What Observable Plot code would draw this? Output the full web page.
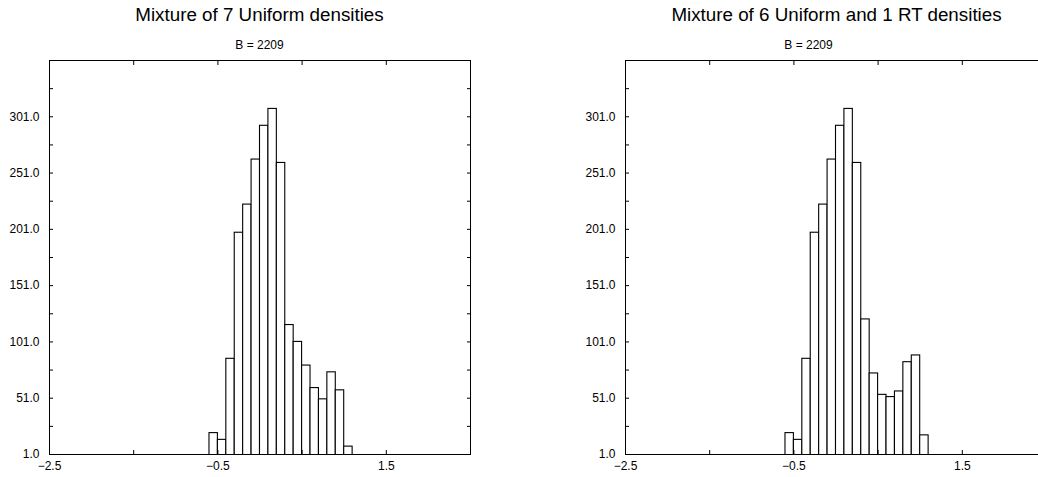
<!DOCTYPE html>
<html>
<head>
<meta charset="utf-8">
<script src="https://cdn.jsdelivr.net/npm/d3@7"></script>
<script src="https://cdn.jsdelivr.net/npm/@observablehq/plot@0.6"></script>
<style>
  html, body { margin: 0; padding: 0; background: #fff; overflow: hidden; }
  #wrap { position: relative; width: 1038px; height: 477px; overflow: hidden;
          font-family: "Liberation Sans", Arial, sans-serif; color: #000; }
  .panel { position: absolute; top: 0; width: 520px; height: 477px; }
  .panel svg { position: absolute; left: 0; top: 0; }
  .panel svg text { font-size: 12px !important; font-family: "Liberation Sans", Arial, sans-serif !important; }
  .title { position: absolute; font-size: 18.8px; line-height: 1; white-space: nowrap;
           transform: translateX(-50%); top: 5.5px; }
  .sub { position: absolute; font-size: 12px; line-height: 1; white-space: nowrap;
         transform: translateX(-50%); top: 39px; }
</style>
</head>
<body>
<div id="wrap"></div>
<script>
// ---- data ----
const titles = ["Mixture of 7 Uniform densities", "Mixture of 6 Uniform and 1 RT densities"];
const subtitle = "B = 2209";
const binEdges = [-0.6, -0.5, -0.4, -0.3, -0.2, -0.1, 0.0, 0.1, 0.2, 0.3, 0.4, 0.5, 0.6, 0.7, 0.8, 0.9, 1.0, 1.1];
const countsUniform = [20, 14, 86, 198, 223, 263, 293, 308, 260, 116, 101, 80, 60, 50, 74, 58, 8];
const countsRT      = [20, 14, 86, 198, 223, 263, 293, 308, 260, 121, 73, 54, 52, 57, 83, 89, 18];
const xDomain = [-2.5, 2.5];
const yDomain = [1, 351];
const xTicksAll = [-2.5, -1.5, -0.5, 0.5, 1.5, 2.5];
const xTickLabels = [-2.5, -0.5, 1.5];
const yTicksAll = [1, 26, 51, 76, 101, 126, 151, 176, 201, 226, 251, 276, 301, 326];
const yTickLabels = [1, 51, 101, 151, 201, 251, 301];

const fmt = d3.format(".1f");
const FONT = '"Liberation Sans", Arial, sans-serif';

function makePlot(counts) {
  const bins = counts.map((c, i) => ({x1: binEdges[i], x2: binEdges[i + 1], count: c}));
  return Plot.plot({
    width: 520, height: 477,
    marginLeft: 49, marginRight: 50, marginTop: 60, marginBottom: 23,
    style: {fontFamily: FONT, fontSize: "12px", color: "#000", background: "transparent", overflow: "visible"},
    x: {domain: xDomain, label: null},
    y: {domain: yDomain, label: null},
    marks: [
      Plot.rectY(bins, {x1: "x1", x2: "x2", y: "count", fill: "white", stroke: "black", strokeWidth: 1.1, clip: true}),
      Plot.frame({stroke: "black", strokeWidth: 1}),
      Plot.axisX(xTicksAll, {anchor: "bottom", tickSize: -4, fill: "none", label: null, stroke: "black"}),
      Plot.axisX(xTicksAll, {anchor: "top", tickSize: -4, fill: "none", label: null, stroke: "black"}),
      Plot.axisX(xTickLabels, {anchor: "bottom", tickSize: 0, tickPadding: 7, tickFormat: fmt, label: null, fill: "black", fontSize: 12, fontFamily: FONT}),
      Plot.axisY(yTicksAll, {anchor: "left", tickSize: -4, fill: "none", label: null, stroke: "black"}),
      Plot.axisY(yTicksAll, {anchor: "right", tickSize: -4, fill: "none", label: null, stroke: "black"}),
      Plot.axisY(yTickLabels, {anchor: "left", tickSize: 0, tickPadding: 10, tickFormat: fmt, label: null, fill: "black", fontSize: 12, fontFamily: FONT})
    ]
  });
}

const wrap = document.getElementById("wrap");
const panels = [
  {left: 0, counts: countsUniform, titleX: 259.5, subX: 259.5},
  {left: 576, counts: countsRT, titleX: 260.5, subX: 232.5}
];
panels.forEach((p, i) => {
  const div = document.createElement("div");
  div.className = "panel";
  div.style.left = p.left + "px";
  div.appendChild(makePlot(p.counts));
  const t = document.createElement("div");
  t.className = "title";
  t.style.left = p.titleX + "px";
  t.textContent = titles[i];
  div.appendChild(t);
  const s = document.createElement("div");
  s.className = "sub";
  s.style.left = p.subX + "px";
  s.textContent = subtitle;
  div.appendChild(s);
  wrap.appendChild(div);
});
</script>
</body>
</html>
